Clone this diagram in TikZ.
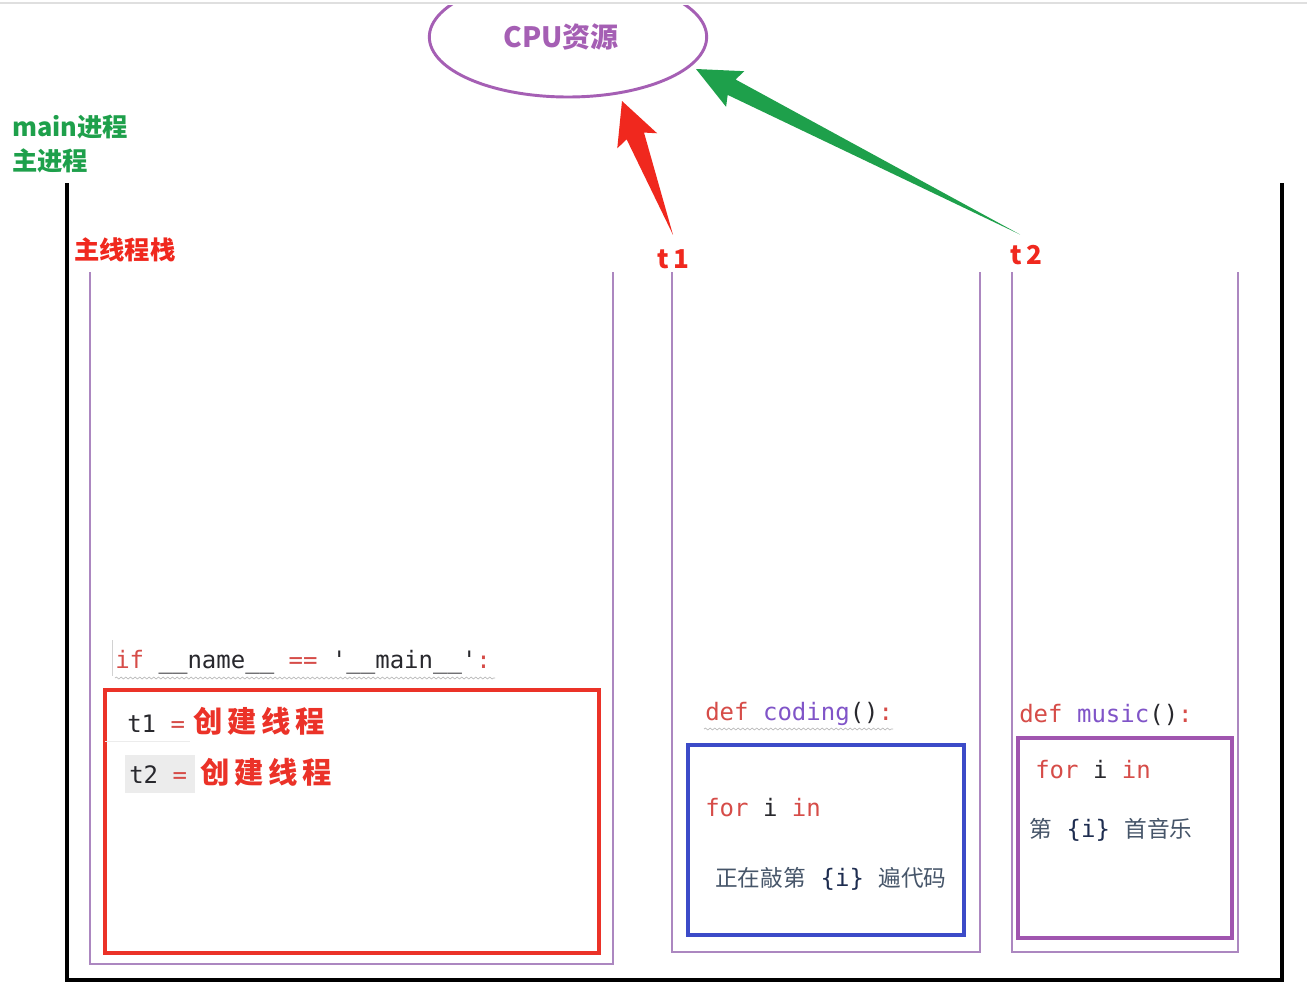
\documentclass[tikz,border=0pt]{standalone}
\usepackage{fontspec}
\setmonofont{DejaVu Sans Mono}
\newfontfamily\cjk{Noto Sans CJK SC}
\usetikzlibrary{shapes.geometric,calc,decorations.pathmorphing}
\definecolor{kwred}{RGB}{214,76,72}
\definecolor{fnpurple}{RGB}{128,84,200}
\definecolor{codedark}{RGB}{40,40,45}
\definecolor{cjkgray}{RGB}{70,85,105}
\definecolor{navy}{RGB}{30,45,80}
\definecolor{colpurple}{RGB}{172,135,192}
\definecolor{boxpurple}{RGB}{160,85,175}
\definecolor{boxblue}{RGB}{60,75,200}
\definecolor{boxred}{RGB}{235,50,40}
\definecolor{labgreen}{RGB}{30,160,75}
\definecolor{labred}{RGB}{240,40,30}
\definecolor{cpupurple}{RGB}{165,95,180}
\tikzset{
  colline/.style={draw=colpurple,line width=0.9pt},
  codebox/.style={line width=2.3pt},
  code/.style={anchor=base west,inner sep=0pt,font=\ttfamily\fontsize{18}{20}\selectfont,text=codedark},
  cjktext/.style={anchor=base west,inner sep=0pt,font=\cjk\fontsize{17}{20}\selectfont,text=cjkgray},
  label/.style={anchor=base west,inner sep=0pt,font=\cjk\bfseries\fontsize{19}{24}\selectfont},
  tlabel/.style={anchor=base,inner sep=0pt,font=\cjk\bfseries\fontsize{19.5}{22}\selectfont,text=labred},
  wavy/.style={draw=gray!55,line width=0.5pt,decorate,decoration={snake,amplitude=0.7pt,segment length=3.5pt}},
}
\begin{document}
\begin{tikzpicture}[x=0.75pt,y=-0.75pt]
\useasboundingbox (0,0) rectangle (1307,1007);
\fill[white] (0,0) rectangle (1307,1007);
% CPU ellipse (clipped at top)
\begin{scope}
  \clip (0,5) rectangle (1307,1007);
  \node[ellipse,draw=cpupurple,line width=2.2pt,minimum width=208pt,minimum height=90pt] (cpu) at (568,37) {};
\end{scope}
\node[font=\cjk\bfseries\fontsize{21}{24}\selectfont,text=cpupurple,inner sep=0pt] (cputext) at (561,37) {CPU资源};
\draw[gray!25,line width=1.5pt] (0,3) -- (1307,3);

% process labels
\node[label,text=labgreen] (mainp) at (12,136) {main进程};
\node[label,text=labgreen] (zhup) at (12,170) {主进程};
\node[label,text=labred] (stack) at (74,259) {主线程栈};

% outer frame
\draw[black,line width=2.3pt] (67,183) -- (67,980) -- (1282,980) -- (1282,183);

% thread columns
\draw[colline] (90,272) -- (90,964) -- (613,964) -- (613,272);
\draw[colline] (672,272) -- (672,952) -- (980,952) -- (980,272);
\draw[colline] (1012,272) -- (1012,952) -- (1238,952) -- (1238,272);

% thread labels
\node[tlabel] (t1lab) at (673,268) {t\,1};
\node[tlabel] (t2lab) at (1026,264) {t\,2};

% red arrow t1 -> CPU
\coordinate (t1tail) at ($(t1lab.north)+(0,-14)$);
\coordinate (t1tip) at (622,101);
\coordinate (t1neck) at ($(t1tip)!28pt!(t1tail)$);
\coordinate (t1barb) at ($(t1tip)!32pt!(t1tail)$);
\fill[labred] (t1tail)
  -- ($(t1neck)!7pt!90:(t1tip)$) -- ($(t1barb)!16pt!90:(t1tip)$) -- (t1tip)
  -- ($(t1barb)!16pt!-90:(t1tip)$) -- ($(t1neck)!7pt!-90:(t1tip)$) -- cycle;

% green arrow t2 -> CPU
\coordinate (t2tail) at ($(t2lab.north)+(-6,-10)$);
\coordinate (t2tip) at (696,69);
\coordinate (t2neck) at ($(t2tip)!30pt!(t2tail)$);
\coordinate (t2barb) at ($(t2tip)!33pt!(t2tail)$);
\fill[labgreen] (t2tail)
  -- ($(t2neck)!6.5pt!90:(t2tip)$) -- ($(t2barb)!15pt!90:(t2tip)$) -- (t2tip)
  -- ($(t2barb)!15pt!-90:(t2tip)$) -- ($(t2neck)!6.5pt!-90:(t2tip)$) -- cycle;

% main thread code
\draw[gray!35,line width=0.6pt] (112,640) -- (112,676);
\node[code] (ifline) at (115,668) {\textcolor{kwred}{if} \_\_name\_\_ \textcolor{kwred}{==} '\_\_main\_\_'\textcolor{kwred}{:}};
\draw[wavy] (115,678) -- (495,678);
\draw[boxred,codebox] (105,690) rectangle (599,953);
\draw[gray!15,line width=0.6pt] (105,741) -- (190,741);
\fill[gray!15] (125,755) rectangle (195,793);
\node[code] (t1code) at (127,732) {t1 \textcolor{kwred}{=}};
\node[anchor=base west,inner sep=0pt,font=\cjk\bfseries\fontsize{22}{26}\selectfont,text=boxred] (t1cjk) at (193,732) {创\,建\,线\,程};
\node[code] (t2code) at (129,783) {t2 \textcolor{kwred}{=}};
\node[anchor=base west,inner sep=0pt,font=\cjk\bfseries\fontsize{22}{26}\selectfont,text=boxred] (t2cjk) at (200,783) {创\,建\,线\,程};

% coding thread
\node[code] (defc) at (705,720) {\textcolor{kwred}{def} \textcolor{fnpurple}{coding}()\textcolor{kwred}{:}};
\draw[wavy] (704,729) -- (893,729);
\draw[boxblue,codebox] (688,745) rectangle (964,935);
\node[code] (forc) at (705,816) {\textcolor{kwred}{for} i \textcolor{kwred}{in}};
\node[cjktext] (codingmsg) at (715,886) {正在敲第\hspace{11pt}\textcolor{navy}{\ttfamily\fontsize{18}{20}\selectfont\{i\}}\hspace{11pt}遍代码};

% music thread
\node[code] (defm) at (1019,722) {\textcolor{kwred}{def} \textcolor{fnpurple}{music}()\textcolor{kwred}{:}};
\draw[boxpurple,codebox] (1018,738) rectangle (1232,938);
\node[code] (form) at (1035,778) {\textcolor{kwred}{for} i \textcolor{kwred}{in}};
\node[cjktext] (musicmsg) at (1029,837) {第\hspace{11pt}\textcolor{navy}{\ttfamily\fontsize{18}{20}\selectfont\{i\}}\hspace{11pt}首音乐};
\end{tikzpicture}
\end{document}
